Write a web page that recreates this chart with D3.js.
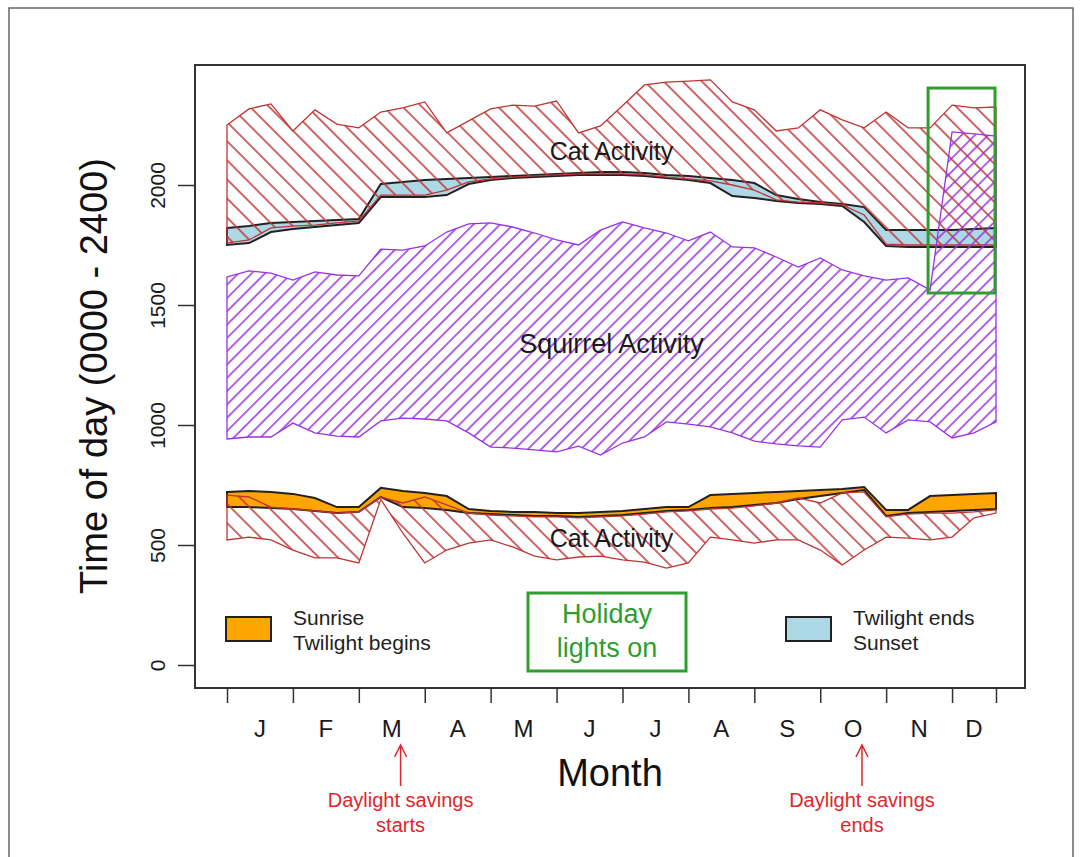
<!DOCTYPE html>
<html>
<head>
<meta charset="utf-8">
<script src="https://cdn.jsdelivr.net/npm/d3@7"></script>
<style>
  body { margin: 0; background: #fff; }
  text { font-family: "Liberation Sans", Arial, sans-serif; }
</style>
</head>
<body>
<svg id="chart" width="1082" height="857"></svg>
<script>
// values are read every ~10 days (3 per month), index 0..35
const months = ["J", "F", "M", "A", "M", "J", "J", "A", "S", "O", "N", "D"];
const monthTicks = [0, 3, 6, 9, 12, 15, 18, 21, 24, 27, 30, 33, 35];
const yTicks = [0, 500, 1000, 1500, 2000];
const dstDates = [7.9, 28.9];   // daylight savings starts / ends

// evening
const catEveHigh = [2250,2317,2338,2225,2313,2254,2238,2304,2321,2346,2217,2267,2317,2333,2329,2350,2217,2246,2330,2417,2429,2433,2438,2346,2313,2225,2238,2313,2271,2238,2304,2238,2238,2333,2321,2325];
const catEveLow  = [1758,1771,1821,1829,1833,1842,1850,1958,1958,1958,1979,2013,2025,2033,2038,2042,2046,2046,2046,2042,2033,2025,2017,2000,1979,1938,1929,1925,1917,1875,1754,1750,1750,1750,1750,1750];
const twilightEnd = [1821,1829,1842,1846,1850,1854,1858,2004,2013,2021,2025,2029,2033,2038,2042,2046,2050,2054,2054,2050,2042,2038,2029,2021,2008,1958,1942,1929,1921,1908,1813,1813,1813,1813,1817,1821];
const sunset      = [1750,1758,1804,1817,1825,1833,1842,1950,1950,1950,1958,2004,2021,2029,2033,2038,2042,2042,2042,2038,2029,2021,2008,1954,1946,1933,1925,1921,1913,1846,1746,1742,1742,1742,1742,1742];

// squirrels (last 3 points = holiday lights on)
const squirrelHigh = [1617,1642,1633,1604,1638,1625,1621,1733,1729,1746,1804,1838,1842,1825,1800,1771,1750,1812,1846,1821,1800,1767,1804,1742,1738,1700,1658,1696,1646,1621,1604,1613,1563,2221,2213,2204];
const squirrelLow  = [942,950,950,1008,967,954,950,1017,1029,1025,1017,967,908,904,896,888,912,875,925,950,1013,1004,992,967,933,921,913,908,1021,1033,967,1021,1013,946,967,1013];

// morning
const sunrise       = [721,725,721,713,696,658,658,738,725,717,704,650,642,638,638,633,633,638,642,650,658,658,708,713,717,721,725,729,733,742,646,646,704,708,713,717];
const twilightBegin = [658,658,654,650,642,633,638,700,658,654,646,633,629,625,621,621,617,621,625,633,642,646,654,658,667,675,692,704,717,729,621,633,638,642,646,650];
const catMornHigh = [708,700,658,650,642,633,638,700,675,700,667,633,625,621,617,617,613,617,621,629,638,642,650,654,663,675,696,675,717,721,617,629,633,633,638,646];
const catMornLow  = [521,533,521,479,446,446,425,690,550,425,479,508,521,492,454,438,450,454,438,429,404,425,533,521,508,521,521,479,417,479,533,529,521,533,613,633];

const svg = d3.select("#chart");
const box = {left: 195, right: 1025, top: 65, bottom: 688};

const x = d3.scaleLinear().domain([0, 35]).range([227, 996]);
const y = d3.scaleLinear().domain([0, 2000]).range([665, 185]);

const red = "#c03434", purple = "#9a32e4", green = "#2f9e2f", annot = "#e0262b";

// outer frame of the figure
svg.append("rect")
   .attr("x", 9).attr("y", 8).attr("width", 1064).attr("height", 900)
   .attr("fill", "none").attr("stroke", "#666").attr("stroke-width", 1.5);

// hatch patterns like R's density/angle
const defs = svg.append("defs");
function hatch(id, color, gap, angle) {
    const p = defs.append("pattern")
        .attr("id", id)
        .attr("patternUnits", "userSpaceOnUse")
        .attr("width", gap).attr("height", gap)
        .attr("patternTransform", "rotate(" + angle + ")");
    p.append("line")
        .attr("x1", gap / 2).attr("y1", -1)
        .attr("x2", gap / 2).attr("y2", gap + 1)
        .attr("stroke", color).attr("stroke-width", 1.5);
}
hatch("catHatch", red, 13.5, -45);
hatch("sqHatch", purple, 9.4, 45);

defs.append("clipPath").attr("id", "plotClip")
    .append("rect")
    .attr("x", box.left).attr("y", box.top)
    .attr("width", box.right - box.left).attr("height", box.bottom - box.top);

const plot = svg.append("g").attr("clip-path", "url(#plotClip)");

function band(lo, hi) {
    return d3.area()
        .x((d, i) => x(i))
        .y0((d, i) => y(lo[i]))
        .y1((d, i) => y(hi[i]))(lo);
}

// twilight bands first so the hatching sits on top
plot.append("path")
    .attr("d", band(sunset, twilightEnd))
    .attr("fill", "#add8e6").attr("stroke", "#222").attr("stroke-width", 2);

plot.append("path")
    .attr("d", band(twilightBegin, sunrise))
    .attr("fill", "#ffa500").attr("stroke", "#222").attr("stroke-width", 2);

// cat activity
plot.append("path")
    .attr("d", band(catEveLow, catEveHigh))
    .attr("fill", "url(#catHatch)").attr("stroke", red).attr("stroke-width", 1.3);

plot.append("path")
    .attr("d", band(catMornLow, catMornHigh))
    .attr("fill", "url(#catHatch)").attr("stroke", red).attr("stroke-width", 1.3);

// squirrel activity
plot.append("path")
    .attr("d", band(squirrelLow, squirrelHigh))
    .attr("fill", "url(#sqHatch)").attr("stroke", purple).attr("stroke-width", 1.3);

// holiday lights box (Dec)
plot.append("rect")
    .attr("x", x(32) - 2).attr("y", y(2404))
    .attr("width", x(35) - x(32) + 1).attr("height", y(1550) - y(2404))
    .attr("fill", "none").attr("stroke", green).attr("stroke-width", 3);

// labels inside the plot
const labels = [
    {t: "Cat Activity", v: 2140, size: 25},
    {t: "Squirrel Activity", v: 1340, size: 27},
    {t: "Cat Activity", v: 530, size: 25}
];
svg.selectAll(".lab")
   .data(labels).enter()
   .append("text")
   .attr("class", "lab")
   .attr("x", x(17.5))
   .attr("y", d => y(d.v))
   .attr("dy", "0.36em")
   .attr("text-anchor", "middle")
   .attr("font-size", d => d.size)
   .attr("fill", "#1a1a1a")
   .text(d => d.t);

// legend
const legend = [
    {fill: "#ffa500", x: 226, tx: 293, lines: ["Sunrise", "Twilight begins"]},
    {fill: "#add8e6", x: 786, tx: 853, lines: ["Twilight ends", "Sunset"]}
];
legend.forEach(l => {
    svg.append("rect")
       .attr("x", l.x).attr("y", 617).attr("width", 45).attr("height", 24)
       .attr("fill", l.fill).attr("stroke", "#222").attr("stroke-width", 2);
    l.lines.forEach((s, k) => {
        svg.append("text")
           .attr("x", l.tx).attr("y", 625 + k * 25)
           .attr("font-size", 21).attr("fill", "#222")
           .text(s);
    });
});

// "Holiday lights on" box
svg.append("rect")
   .attr("x", 528).attr("y", 593).attr("width", 158).attr("height", 78)
   .attr("fill", "none").attr("stroke", green).attr("stroke-width", 3);
["Holiday", "lights on"].forEach((s, k) => {
    svg.append("text")
       .attr("x", 607).attr("y", 623 + k * 34)
       .attr("text-anchor", "middle")
       .attr("font-size", 27).attr("fill", green)
       .text(s);
});

// plot box
svg.append("rect")
   .attr("x", box.left).attr("y", box.top)
   .attr("width", box.right - box.left).attr("height", box.bottom - box.top)
   .attr("fill", "none").attr("stroke", "#333").attr("stroke-width", 2);

// y axis
const yAxis = svg.append("g")
    .attr("transform", "translate(" + box.left + ",0)")
    .call(d3.axisLeft(y).tickValues(yTicks).tickSize(17).tickFormat(d3.format("d")));
yAxis.select(".domain").remove();
yAxis.selectAll("line").attr("stroke", "#333").attr("stroke-width", 1.5);
yAxis.selectAll("text")
     .attr("x", null).attr("dy", null)
     .attr("text-anchor", "middle")
     .attr("transform", "translate(-30,0) rotate(-90)")
     .attr("font-size", 21)
     .attr("font-family", "Liberation Sans, Arial, sans-serif")
     .attr("fill", "#1a1a1a");

// x axis ticks, labels at mid month
const xAxis = svg.append("g")
    .attr("transform", "translate(0," + box.bottom + ")")
    .call(d3.axisBottom(x).tickValues(monthTicks).tickSize(15).tickFormat(""));
xAxis.select(".domain").remove();
xAxis.selectAll("line").attr("stroke", "#333").attr("stroke-width", 1.5);

const mids = months.map((m, i) => (monthTicks[i] + monthTicks[i + 1]) / 2);
svg.selectAll(".mlab")
   .data(months).enter()
   .append("text")
   .attr("class", "mlab")
   .attr("x", (d, i) => x(mids[i]))
   .attr("y", 737)
   .attr("text-anchor", "middle")
   .attr("font-size", 24)
   .attr("fill", "#1a1a1a")
   .text(d => d);

// axis titles
svg.append("text")
   .attr("x", (box.left + box.right) / 2).attr("y", 786)
   .attr("text-anchor", "middle")
   .attr("font-size", 38).attr("fill", "#111")
   .text("Month");

svg.append("text")
   .attr("transform", "translate(107," + 376 + ") rotate(-90)")
   .attr("text-anchor", "middle")
   .attr("font-size", 38).attr("fill", "#111")
   .text("Time of day (0000 - 2400)");

// daylight savings arrows
const dstText = [["Daylight savings", "starts"], ["Daylight savings", "ends"]];
dstDates.forEach((d, k) => {
    const ax = x(d);
    svg.append("path")
       .attr("d", "M" + ax + ",786 L" + ax + ",745 M" + (ax - 6) + ",757 L" + ax + ",745 L" + (ax + 6) + ",757")
       .attr("fill", "none").attr("stroke", annot).attr("stroke-width", 1.5);
    dstText[k].forEach((s, j) => {
        svg.append("text")
           .attr("x", ax).attr("y", 807 + j * 25)
           .attr("text-anchor", "middle")
           .attr("font-size", 20).attr("fill", annot)
           .text(s);
    });
});
</script>
</body>
</html>
